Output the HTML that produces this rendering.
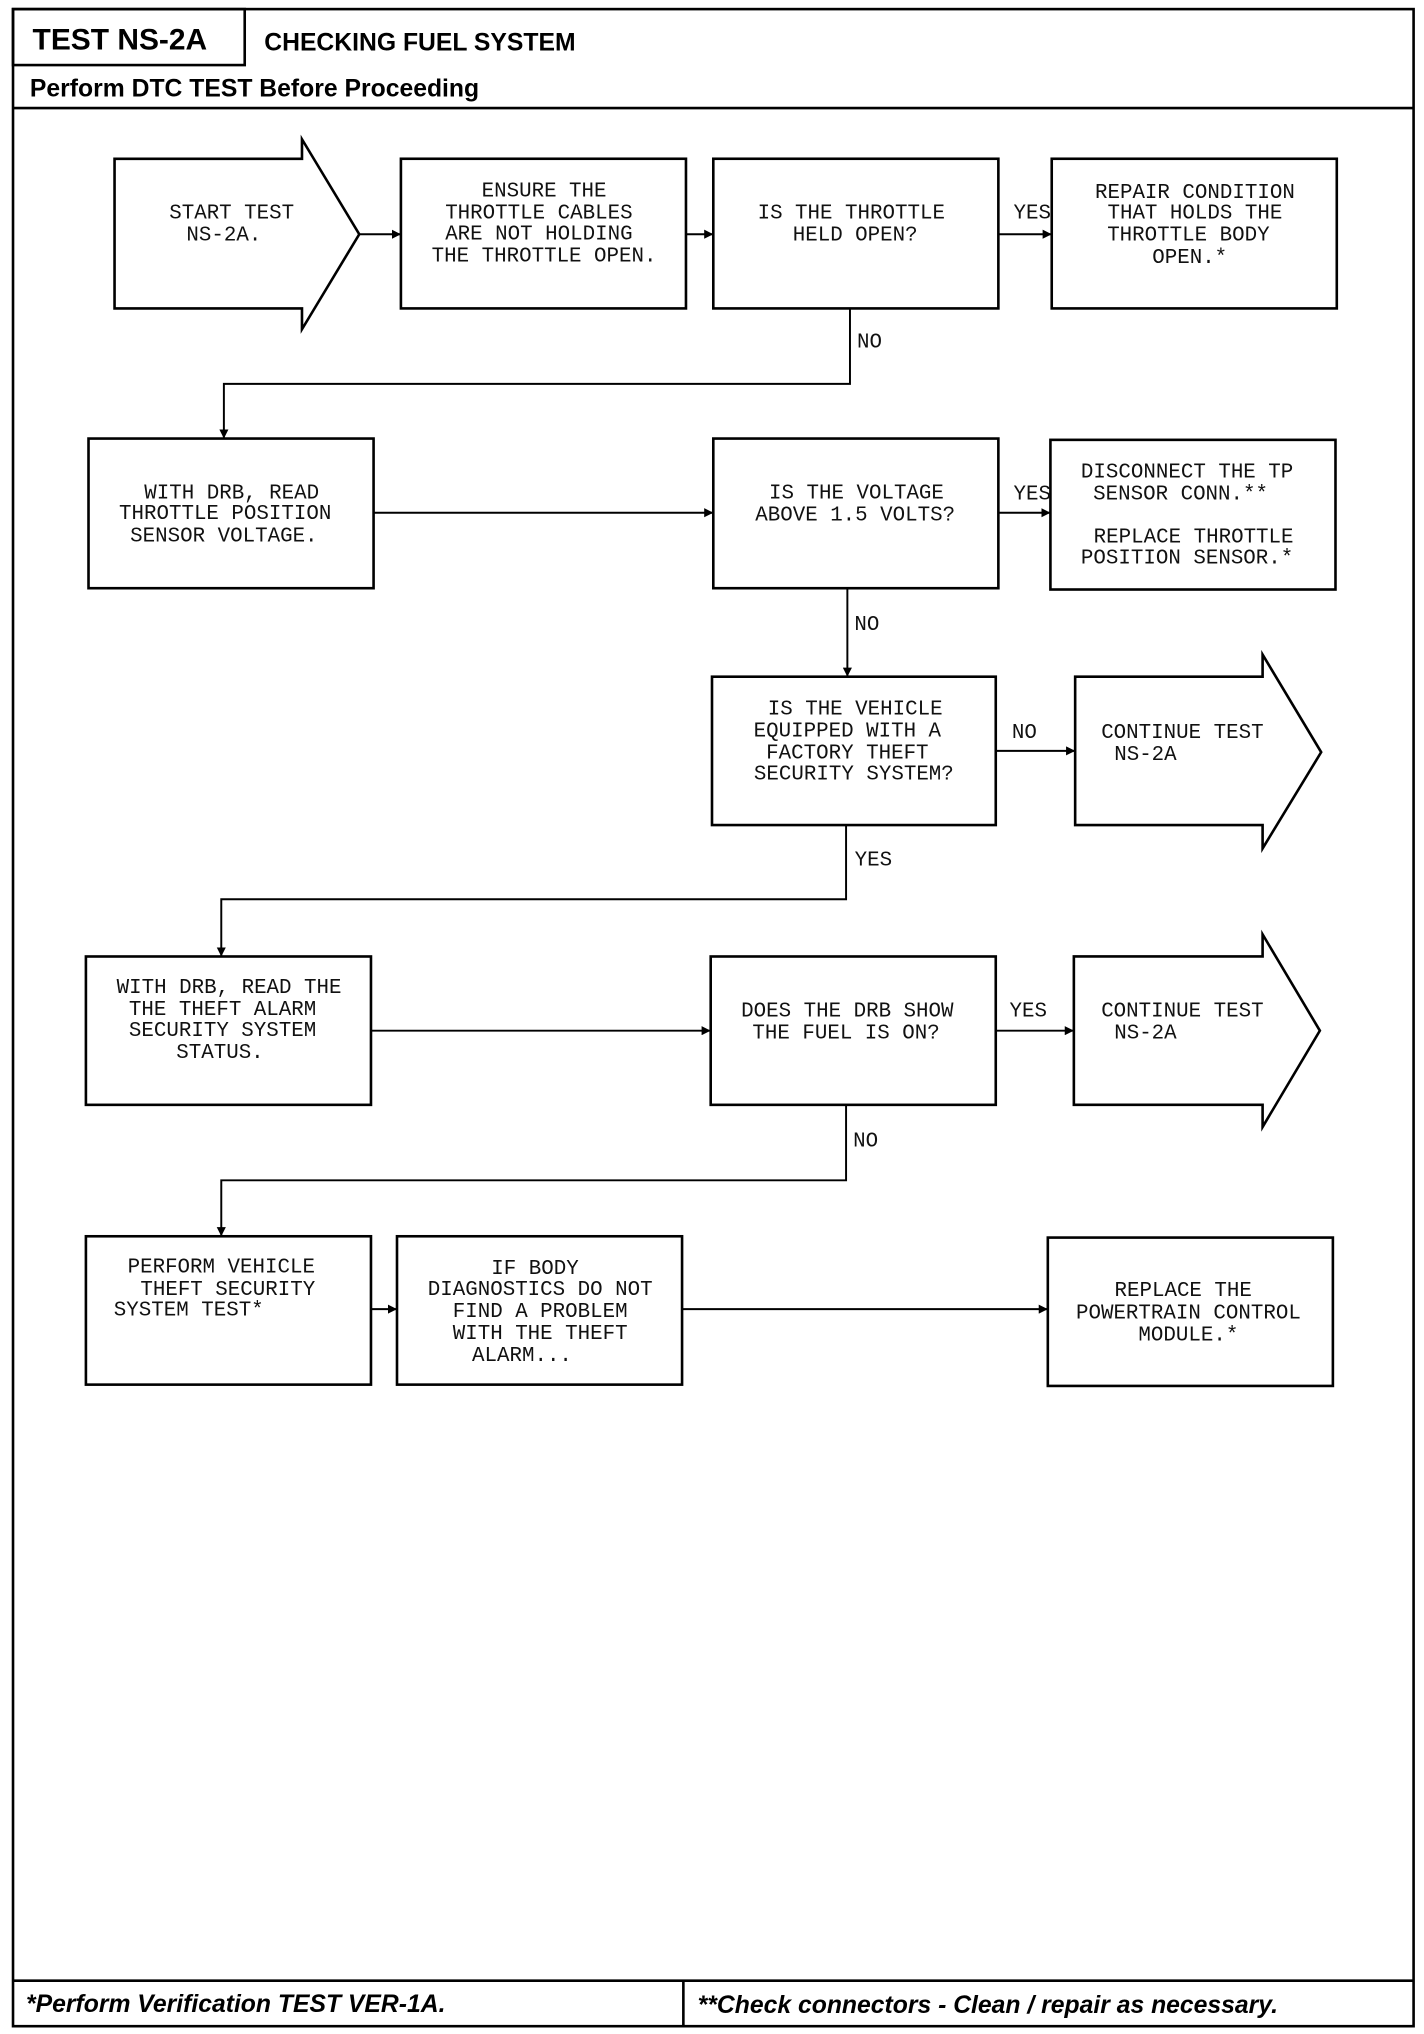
<!DOCTYPE html>
<html><head><meta charset="utf-8"><style>
html,body{margin:0;padding:0;background:#fff;}
svg{display:block;}
.t{font-family:"Liberation Mono",monospace;font-size:16px;fill:#111;text-anchor:middle;}
.ts{font-family:"Liberation Mono",monospace;font-size:16px;fill:#111;}
.b{fill:none;stroke:#000;stroke-width:2;}
.l{fill:none;stroke:#000;stroke-width:1.5;}
.h{font-family:"Liberation Sans",sans-serif;font-weight:bold;fill:#000;}
</style></head><body>
<svg width="1424" height="2034" viewBox="0 0 1094 1563" preserveAspectRatio="none" xmlns="http://www.w3.org/2000/svg">
<defs><marker id="a" viewBox="0 0 10 10" refX="10" refY="5" markerWidth="7" markerHeight="7" orient="auto" markerUnits="userSpaceOnUse"><path d="M0,0 L10,5 L0,10 z" fill="#000"/></marker></defs>
<!-- frame -->
<rect x="10" y="7" width="1076" height="1550" class="b" stroke-width="2.5"/>
<rect x="10" y="7" width="178" height="43" class="b" stroke-width="2.5"/>
<line x1="10" y1="83" x2="1086" y2="83" class="b" stroke-width="2.5"/>
<line x1="10" y1="1522" x2="1086" y2="1522" class="b" stroke-width="2.5"/>
<line x1="525" y1="1522" x2="525" y2="1557" class="b" stroke-width="2.5"/>
<text x="25" y="38" class="h" font-size="23">TEST NS-2A</text>
<text x="203" y="39" class="h" font-size="19">CHECKING FUEL SYSTEM</text>
<text x="23" y="74" class="h" font-size="19">Perform DTC TEST Before Proceeding</text>
<text x="20" y="1546" class="h" font-size="19" font-style="italic">*Perform Verification TEST VER-1A.</text>
<text x="536" y="1547" class="h" font-size="19" font-style="italic">**Check connectors - Clean / repair as necessary.</text>

<!-- row1 -->
<path d="M88,122 H232 V107 L276,180 L232,253 V237 H88 Z" class="b"/>
<rect x="308" y="122" width="219" height="115" class="b"/>
<rect x="548" y="122" width="219" height="115" class="b"/>
<rect x="808" y="122" width="219" height="115" class="b"/>
<line x1="276" y1="180" x2="308" y2="180" class="l" marker-end="url(#a)"/>
<line x1="527" y1="180" x2="548" y2="180" class="l" marker-end="url(#a)"/>
<line x1="767" y1="180" x2="808" y2="180" class="l" marker-end="url(#a)"/>
<text class="t" x="793" y="168">YES</text>
<path d="M653,237 V295 H172 V337" class="l" marker-end="url(#a)"/>
<text class="t" x="668" y="267">NO</text>
<text class="t" x="178" y="168">START TEST</text>
<text class="t" x="172" y="185">NS-2A.</text>
<text class="t" x="418" y="151">ENSURE THE</text>
<text class="t" x="414" y="168">THROTTLE CABLES</text>
<text class="t" x="414" y="184">ARE NOT HOLDING</text>
<text class="t" x="418" y="201">THE THROTTLE OPEN.</text>
<text class="t" x="654" y="168">IS THE THROTTLE</text>
<text class="t" x="657" y="185">HELD OPEN?</text>
<text class="t" x="918" y="152">REPAIR CONDITION</text>
<text class="t" x="918" y="168">THAT HOLDS THE</text>
<text class="t" x="913" y="185">THROTTLE BODY</text>
<text class="t" x="914" y="202">OPEN.*</text>

<!-- row2 -->
<rect x="68" y="337" width="219" height="115" class="b"/>
<rect x="548" y="337" width="219" height="115" class="b"/>
<rect x="807" y="338" width="219" height="115" class="b"/>
<line x1="287" y1="394" x2="548" y2="394" class="l" marker-end="url(#a)"/>
<line x1="767" y1="394" x2="807" y2="394" class="l" marker-end="url(#a)"/>
<text class="t" x="793" y="384">YES</text>
<line x1="651" y1="453" x2="651" y2="520" class="l" marker-end="url(#a)"/>
<text class="t" x="666" y="484">NO</text>
<text class="t" x="178" y="383">WITH DRB, READ</text>
<text class="t" x="173" y="399">THROTTLE POSITION</text>
<text class="t" x="172" y="416">SENSOR VOLTAGE.</text>
<text class="t" x="658" y="383">IS THE VOLTAGE</text>
<text class="t" x="657" y="400">ABOVE 1.5 VOLTS?</text>
<text class="t" x="912" y="367">DISCONNECT THE TP</text>
<text class="t" x="907" y="384">SENSOR CONN.**</text>
<text class="t" x="917" y="417">REPLACE THROTTLE</text>
<text class="t" x="912" y="433">POSITION SENSOR.*</text>

<!-- row3 -->
<rect x="547" y="520" width="218" height="114" class="b"/>
<path d="M826,520 H970 V503 L1015,578 L970,652 V634 H826 Z" class="b"/>
<line x1="765" y1="577" x2="826" y2="577" class="l" marker-end="url(#a)"/>
<text class="t" x="787" y="567">NO</text>
<path d="M650,634 V691 H170 V735" class="l" marker-end="url(#a)"/>
<text class="t" x="671" y="665">YES</text>
<text class="t" x="657" y="549">IS THE VEHICLE</text>
<text class="t" x="651" y="566">EQUIPPED WITH A</text>
<text class="t" x="651" y="583">FACTORY THEFT</text>
<text class="t" x="656" y="599">SECURITY SYSTEM?</text>
<text class="ts" x="846" y="567">CONTINUE TEST</text>
<text class="ts" x="856" y="584">NS-2A</text>

<!-- row4 -->
<rect x="66" y="735" width="219" height="114" class="b"/>
<rect x="546" y="735" width="219" height="114" class="b"/>
<path d="M825,735 H970 V718 L1014,792 L970,866 V849 H825 Z" class="b"/>
<line x1="285" y1="792" x2="546" y2="792" class="l" marker-end="url(#a)"/>
<line x1="765" y1="792" x2="825" y2="792" class="l" marker-end="url(#a)"/>
<text class="t" x="790" y="781">YES</text>
<path d="M650,849 V907 H170 V950" class="l" marker-end="url(#a)"/>
<text class="t" x="665" y="881">NO</text>
<text class="t" x="176" y="763">WITH DRB, READ THE</text>
<text class="t" x="171" y="780">THE THEFT ALARM</text>
<text class="t" x="171" y="796">SECURITY SYSTEM</text>
<text class="t" x="169" y="813">STATUS.</text>
<text class="t" x="651" y="781">DOES THE DRB SHOW</text>
<text class="t" x="650" y="798">THE FUEL IS ON?</text>
<text class="ts" x="846" y="781">CONTINUE TEST</text>
<text class="ts" x="856" y="798">NS-2A</text>

<!-- row5 -->
<rect x="66" y="950" width="219" height="114" class="b"/>
<rect x="305" y="950" width="219" height="114" class="b"/>
<rect x="805" y="951" width="219" height="114" class="b"/>
<line x1="285" y1="1006" x2="305" y2="1006" class="l" marker-end="url(#a)"/>
<line x1="524" y1="1006" x2="805" y2="1006" class="l" marker-end="url(#a)"/>
<text class="t" x="170" y="978">PERFORM VEHICLE</text>
<text class="t" x="175" y="995">THEFT SECURITY</text>
<text class="t" x="145" y="1011">SYSTEM TEST*</text>
<text class="t" x="411" y="979">IF BODY</text>
<text class="t" x="415" y="995">DIAGNOSTICS DO NOT</text>
<text class="t" x="415" y="1012">FIND A PROBLEM</text>
<text class="t" x="415" y="1029">WITH THE THEFT</text>
<text class="t" x="401" y="1046">ALARM...</text>
<text class="t" x="909" y="996">REPLACE THE</text>
<text class="t" x="913" y="1013">POWERTRAIN CONTROL</text>
<text class="t" x="913" y="1030">MODULE.*</text>
</svg>
</body></html>
